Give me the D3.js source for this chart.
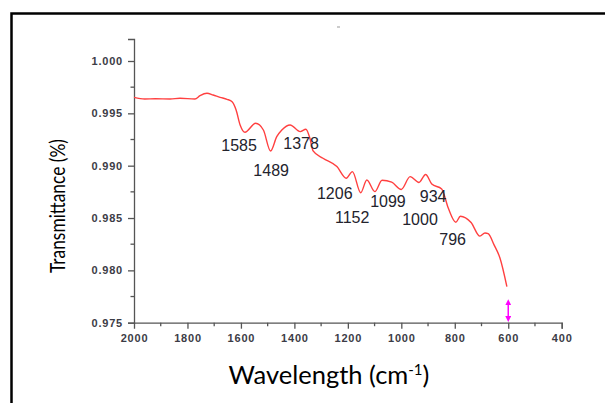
<!DOCTYPE html>
<html>
<head>
<meta charset="utf-8">
<script src="https://cdn.jsdelivr.net/npm/d3@7"></script>
<style>
    body { margin: 0; background: #fff; }
</style>
</head>
<body>
<div id="chart-container"></div>
<script>
// Spectrum data
const wavenumbers = [2000, 1960, 1920, 1865, 1828, 1772, 1753, 1727, 1704, 1678, 1652, 1633, 1618, 1603,
    1585, 1545, 1516, 1489, 1466, 1447, 1416, 1378, 1357, 1342, 1330, 1293, 1241, 1206, 1183, 1152,
    1129, 1099, 1072, 1036, 1000, 967, 934, 909, 886, 849, 824, 796, 779, 739, 706, 687, 675, 653, 631, 605];
const transmittance = [0.99653, 0.99637, 0.99640, 0.99637, 0.99644, 0.99637, 0.99669, 0.99692, 0.99675, 0.99653,
    0.99634, 0.99611, 0.99532, 0.99389, 0.99319, 0.99405, 0.99341, 0.99140, 0.99277, 0.99341, 0.99389,
    0.99325, 0.99348, 0.99262, 0.99141, 0.99071, 0.98991, 0.98880, 0.98943, 0.98742, 0.98863, 0.98752,
    0.98861, 0.98842, 0.98773, 0.98895, 0.98840, 0.98916, 0.98825, 0.98778, 0.98593, 0.98460, 0.98517,
    0.98457, 0.98327, 0.98357, 0.98350, 0.98243, 0.98118, 0.97844];

// Peak labels (where the text sits, in data units)
const peakNames = ["1585", "1489", "1378", "1206", "1152", "1099", "934", "1000", "796"];
const peakX = [1607, 1487, 1375, 1249, 1184, 1050, 881, 930, 808];
const peakY = [0.99136, 0.98897, 0.99164, 0.98682, 0.98453, 0.98606, 0.98653, 0.98434, 0.98243];

const xTicks = [2000, 1800, 1600, 1400, 1200, 1000, 800, 600, 400];
const yTicks = [0.975, 0.980, 0.985, 0.990, 0.995, 1.000];

function renderChart() {
    const width = 605;
    const height = 403;

    const svg = d3.create("svg")
        .attr("width", width)
        .attr("height", height)
        .attr("viewBox", [0, 0, width, height]);

    // Outer frame
    svg.append("rect")
        .attr("x", 11.5)
        .attr("y", 13.5)
        .attr("width", 700)
        .attr("height", 500)
        .attr("fill", "none")
        .attr("stroke", "#000")
        .attr("stroke-width", 2.5);

    // little artefact near the top
    svg.append("line")
        .attr("x1", 337).attr("x2", 340)
        .attr("y1", 27).attr("y2", 27)
        .attr("stroke", "#999")
        .attr("stroke-width", 1);

    // Scales
    const x = d3.scaleLinear([2000, 400], [134, 561.7]);
    const y = d3.scaleLinear([0.975, 1.000], [322.7, 61]);
    const yTop = 1.0021;

    const axisColor = "#555";
    const tickFont = "Liberation Sans, Arial, sans-serif";

    // X axis
    const xAxis = d3.axisBottom(x)
        .tickValues(xTicks)
        .tickSize(6)
        .tickSizeOuter(6)
        .tickPadding(6)
        .tickFormat(d3.format("d"));

    const gx = svg.append("g")
        .attr("transform", `translate(0,${y(0.975)})`)
        .call(xAxis);

    gx.selectAll(".tick").filter(d => d === 2000).select("line").remove();

    gx.append("g")
        .selectAll("line")
        .data(d3.range(1900, 400, -200))
        .join("line")
        .attr("x1", d => x(d))
        .attr("x2", d => x(d))
        .attr("y1", 0)
        .attr("y2", 3.5)
        .attr("stroke", axisColor)
        .attr("stroke-width", 1.3);

    // Y axis
    const yAxisScale = y.copy().domain([0.975, yTop]).range([322.7, y(yTop)]);
    const yAxis = d3.axisLeft(yAxisScale)
        .tickValues(yTicks)
        .tickSize(6)
        .tickSizeOuter(6)
        .tickPadding(5)
        .tickFormat(d3.format(".3f"));

    const gy = svg.append("g")
        .attr("transform", `translate(${x(2000)},0)`)
        .call(yAxis);

    gy.append("g")
        .selectAll("line")
        .data(d3.range(0.9775, 1.0, 0.005))
        .join("line")
        .attr("x1", 0)
        .attr("x2", -3.5)
        .attr("y1", d => y(d))
        .attr("y2", d => y(d))
        .attr("stroke", axisColor)
        .attr("stroke-width", 1.3);

    [gx, gy].forEach(g => {
        g.select(".domain").attr("stroke", axisColor).attr("stroke-width", 1.3);
        g.selectAll(".tick line").attr("stroke", axisColor).attr("stroke-width", 1.3);
        g.selectAll(".tick text")
            .attr("fill", "#3c3c46")
            .style("font-family", tickFont)
            .style("font-size", "11px")
            .style("font-weight", "bold")
            .style("letter-spacing", "0.8px");
    });

    // Spectrum line
    const data = wavenumbers.map((w, i) => ({w: w, t: transmittance[i]}));
    const line = d3.line()
        .x(d => x(d.w))
        .y(d => y(d.t))
        .curve(d3.curveMonotoneX);

    svg.append("path")
        .datum(data)
        .attr("fill", "none")
        .attr("stroke", "#ff4040")
        .attr("stroke-width", 1.4)
        .attr("d", line);

    // Peak labels
    svg.append("g")
        .selectAll("text")
        .data(peakNames)
        .join("text")
        .attr("x", (d, i) => x(peakX[i]))
        .attr("y", (d, i) => y(peakY[i]))
        .attr("text-anchor", "middle")
        .attr("fill", "#23232d")
        .style("font-family", tickFont)
        .style("font-size", "16px")
        .text(d => d);

    // Magenta double arrow
    const defs = svg.append("defs");
    defs.append("marker")
        .attr("id", "arrowhead")
        .attr("viewBox", "0 0 10 10")
        .attr("refX", 5)
        .attr("refY", 5)
        .attr("markerWidth", 4)
        .attr("markerHeight", 4)
        .attr("orient", "auto-start-reverse")
        .append("path")
        .attr("d", "M0,0 L10,5 L0,10 z")
        .attr("fill", "#ff00ff");

    svg.append("line")
        .attr("x1", x(600))
        .attr("x2", x(600))
        .attr("y1", y(0.97695))
        .attr("y2", y(0.97535))
        .attr("stroke", "#ff00ff")
        .attr("stroke-width", 1.5)
        .attr("marker-start", "url(#arrowhead)")
        .attr("marker-end", "url(#arrowhead)");

    // Axis titles
    const titleFont = "Lato, 'Open Sans', sans-serif";

    svg.append("text")
        .attr("transform", "translate(65,206) rotate(-90)")
        .attr("text-anchor", "middle")
        .attr("fill", "#000")
        .attr("textLength", 134)
        .attr("lengthAdjust", "spacingAndGlyphs")
        .style("font-family", titleFont)
        .style("font-size", "21.5px")
        .text("Transmittance (%)");

    const xTitle = svg.append("text")
        .attr("x", 329)
        .attr("y", 384)
        .attr("text-anchor", "middle")
        .attr("fill", "#000")
        .style("font-family", titleFont)
        .style("font-size", "25.5px");
    xTitle.append("tspan").text("Wavelength (cm");
    xTitle.append("tspan").attr("dy", -9).style("font-size", "15px").text("-1");
    xTitle.append("tspan").attr("dy", 9).text(")");

    document.getElementById("chart-container").appendChild(svg.node());
}

renderChart();
</script>
</body>
</html>
